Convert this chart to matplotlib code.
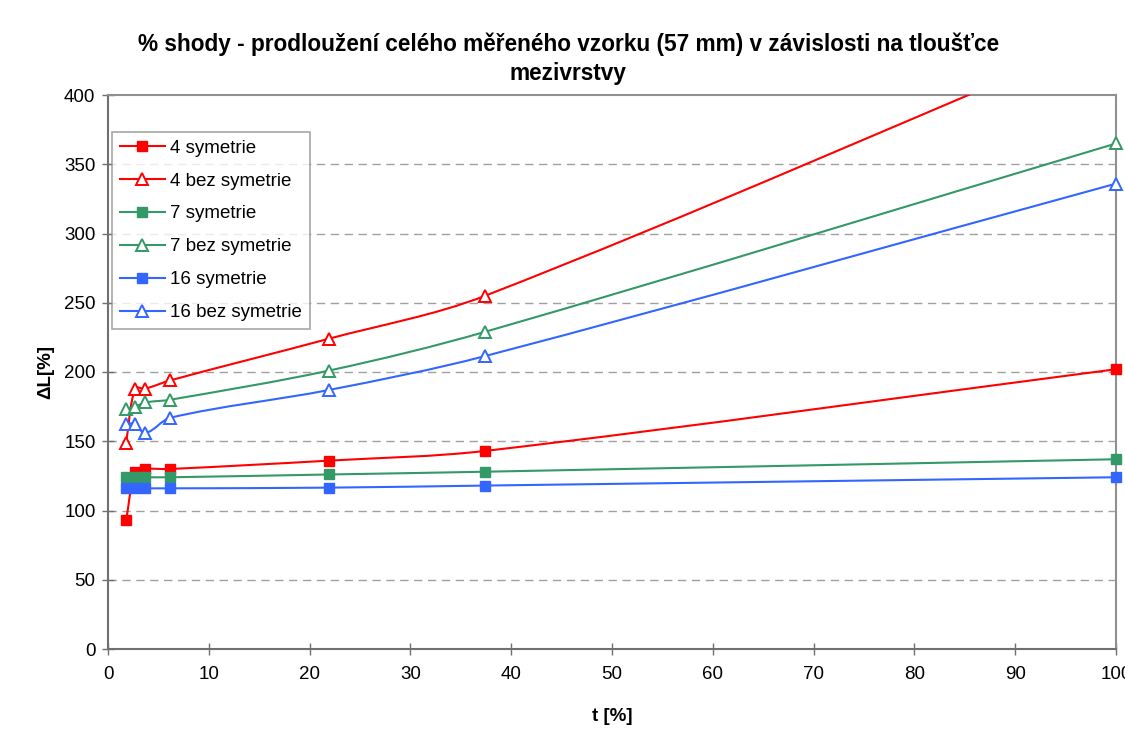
import numpy as np
import matplotlib
matplotlib.use("Agg")
import matplotlib.pyplot as plt
from matplotlib.path import Path
from matplotlib.patches import PathPatch
from matplotlib.lines import Line2D

plt.rcParams['font.family'] = ['Liberation Sans', 'DejaVu Sans']

t = [1.8, 2.7, 3.7, 6.2, 21.9, 37.4, 100]
s4_sym = [93, 128, 130, 130, 136, 143, 202]
s4_bez = [149, 188, 188, 194, 224, 255, 445]
s7_sym = [124, 124, 124, 124, 126, 128, 137]
s7_bez = [173, 175, 178, 180, 201, 229, 365]
s16_sym = [116, 116, 116, 116, 116.5, 118, 124]
s16_bez = [162.5, 162.5, 156, 167, 187, 211.5, 336]

labels = ["4 symetrie", "4 bez symetrie", "7 symetrie", "7 bez symetrie",
          "16 symetrie", "16 bez symetrie"]
series = [s4_sym, s4_bez, s7_sym, s7_bez, s16_sym, s16_bez]
colors = ["#FF0000", "#FF0000", "#339966", "#339966", "#3366FF", "#3366FF"]
markers = ["s", "^", "s", "^", "s", "^"]

fig = plt.figure(figsize=(11.25, 7.42), dpi=100)
ax = fig.add_axes([108/1125, 1-649/742, (1116-108)/1125, (649-95)/742])
ax.set_xlim(0, 100)
ax.set_ylim(0, 400)


def smooth_path(x, y, k=1/3):
    # smooth curve built in display space (chord-scaled tangents)
    P = ax.transData.transform(np.column_stack([x, y]).astype(float))
    n = len(P)
    D = []
    for i in range(n):
        if i == 0:
            v = P[1] - P[0]
        elif i == n - 1:
            v = P[-1] - P[-2]
        else:
            v = P[i + 1] - P[i - 1]
        D.append(v / np.hypot(*v))
    verts = [P[0]]
    codes = [Path.MOVETO]
    for i in range(n - 1):
        L = np.hypot(*(P[i + 1] - P[i]))
        c1 = P[i] + D[i] * L * k
        c2 = P[i + 1] - D[i + 1] * L * k
        verts += [c1, c2, P[i + 1]]
        codes += [Path.CURVE4] * 3
    verts = ax.transData.inverted().transform(np.array(verts))
    return Path(verts, codes)


handles = []
for ys, lab, c, m in zip(series, labels, colors, markers):
    patch = PathPatch(smooth_path(t, ys), facecolor='none', edgecolor=c, lw=1.5,
                      zorder=3, capstyle='round', joinstyle='round')
    ax.add_patch(patch)
    yv = np.ma.masked_greater(np.array(ys, dtype=float), 400)
    if m == "s":
        ax.plot(t, yv, linestyle='none', marker='s', ms=6.8, mfc=c, mec=c,
                zorder=4, clip_on=False)
        h = Line2D([], [], color=c, lw=1.5, marker='s', ms=7, mfc=c, mec=c)
    else:
        ax.plot(t, yv, linestyle='none', marker='^', ms=8, mfc='white', mec=c,
                mew=1.4, zorder=4, clip_on=False)
        h = Line2D([], [], color=c, lw=1.5, marker='^', ms=8, mfc='white', mec=c, mew=1.4)
    handles.append(h)

ax.set_xticks(range(0, 101, 10))
ax.set_yticks(range(0, 401, 50))
for yv in range(50, 400, 50):
    ax.axhline(yv, color='#A0A0A0', lw=1, ls=(0, (6, 4)), zorder=1)

for sp in ['top', 'right']:
    ax.spines[sp].set_color('#909090')
    ax.spines[sp].set_linewidth(1.5)
for sp in ['left', 'bottom']:
    ax.spines[sp].set_color('#707070')
    ax.spines[sp].set_linewidth(1.5)
ax.tick_params(axis='both', direction='inout', length=8, width=1, color='#707070',
               labelsize=13.5)
ax.tick_params(axis='x', pad=8)
ax.tick_params(axis='y', pad=5)

ax.set_xlabel("t [%]", fontsize=13.5, fontweight='bold', labelpad=18)
ax.set_ylabel("ΔL[%]", fontsize=13.5, fontweight='bold', labelpad=7)

fig.text(0.505, 1 - 59/742,
         "% shody - prodloužení celého měřeného vzorku (57 mm) v závislosti na tloušťce\nmezivrstvy",
         ha='center', va='center', fontsize=16.3, fontweight='bold', linespacing=1.35)

leg = ax.legend(handles, labels, loc='upper left', bbox_to_anchor=(0.004, 0.933),
                fontsize=13.5, frameon=True, fancybox=False, edgecolor='#909090',
                handlelength=2.4, labelspacing=0.84, borderpad=0.4, handletextpad=0.3,
                borderaxespad=0)
leg.get_frame().set_linewidth(1.2)

fig.savefig("out.png", dpi=100)
